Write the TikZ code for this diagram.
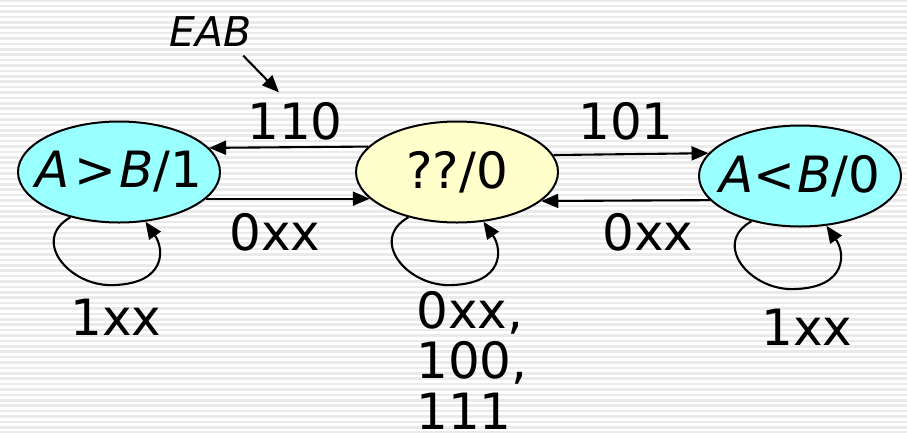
\documentclass[tikz,border=0pt]{standalone}
\usepackage{fontspec}
\setmainfont{DejaVu Sans}
\usetikzlibrary{shapes.geometric,arrows.meta,calc}
\definecolor{stripe}{RGB}{234,234,234}
\definecolor{stcyan}{RGB}{153,255,255}
\definecolor{styellow}{RGB}{255,255,204}
\begin{document}
\begin{tikzpicture}[x=1pt,y=-1pt,
  state/.style={ellipse,draw,line width=2pt,minimum width=202pt,minimum height=101pt,inner sep=0pt,font=\fontsize{50}{60}\selectfont},
  lbl/.style={inner sep=0pt,font=\fontsize{50}{50.5}\selectfont},
  arr/.style={line width=2.1pt,-{Triangle[length=17pt,width=14pt]}}]
\useasboundingbox (0,0) rectangle (907,432);
\fill[white] (0,0) rectangle (907,432);
\foreach \k in {-1,...,80} \fill[stripe] (0,{4.7+5.4*\k}) rectangle (907,{7.3+5.4*\k});

\node[state,fill=stcyan] (gt) at (119,172) {\makebox[0pt][c]{\textit{A}\hspace{4pt}>\hspace{3pt}\textit{B}/1}};
\node[state,fill=styellow] (eq) at (457,172) {\makebox[0pt][c]{??/0}};
\node[state,fill=stcyan] (lt) at (800,176) {\makebox[0pt][c]{\textit{A}<\hspace{2pt}\textit{B}/0}};

\draw[arr] (eq.164.8) -- (gt.15.2);
\draw[arr] (gt.-17.6) -- (eq.197.6);
\draw[arr] (eq.10.8) -- (lt.166.4);
\draw[arr] (lt.195.9) -- (eq.-19.4);

\foreach \n in {gt,eq,lt}
  \draw[arr] (\n.223) .. controls ($(\n)+(-89,68)$) and ($(\n)+(-49,116)$) .. ($(\n)+(-4,113)$)
    .. controls ($(\n)+(46,111)$) and ($(\n)+(46,78)$) .. (\n.298);

\node[lbl] (l110) at (295,121.5) {110};
\node[lbl] (l0a) at (275,232.5) {0xx};
\node[lbl] (l101) at (626,121.5) {101};
\node[lbl] (l0b) at (648,232.5) {0xx};
\node[lbl] (l1a) at (116,317) {1xx};
\node[lbl] (l1b) at (807,327) {1xx};
\node[lbl,align=left,anchor=north west] (leq) at (416,291) {0xx,\\100,\\111};

\node[inner sep=0pt,font=\fontsize{41}{41}\selectfont\itshape] (eab) at (211,31.5) {EAB};
\draw[arr] ($(eab.south east)+(-9,9)$) -- ($(l110.north)+(-16,-10)$);
\end{tikzpicture}
\end{document}
